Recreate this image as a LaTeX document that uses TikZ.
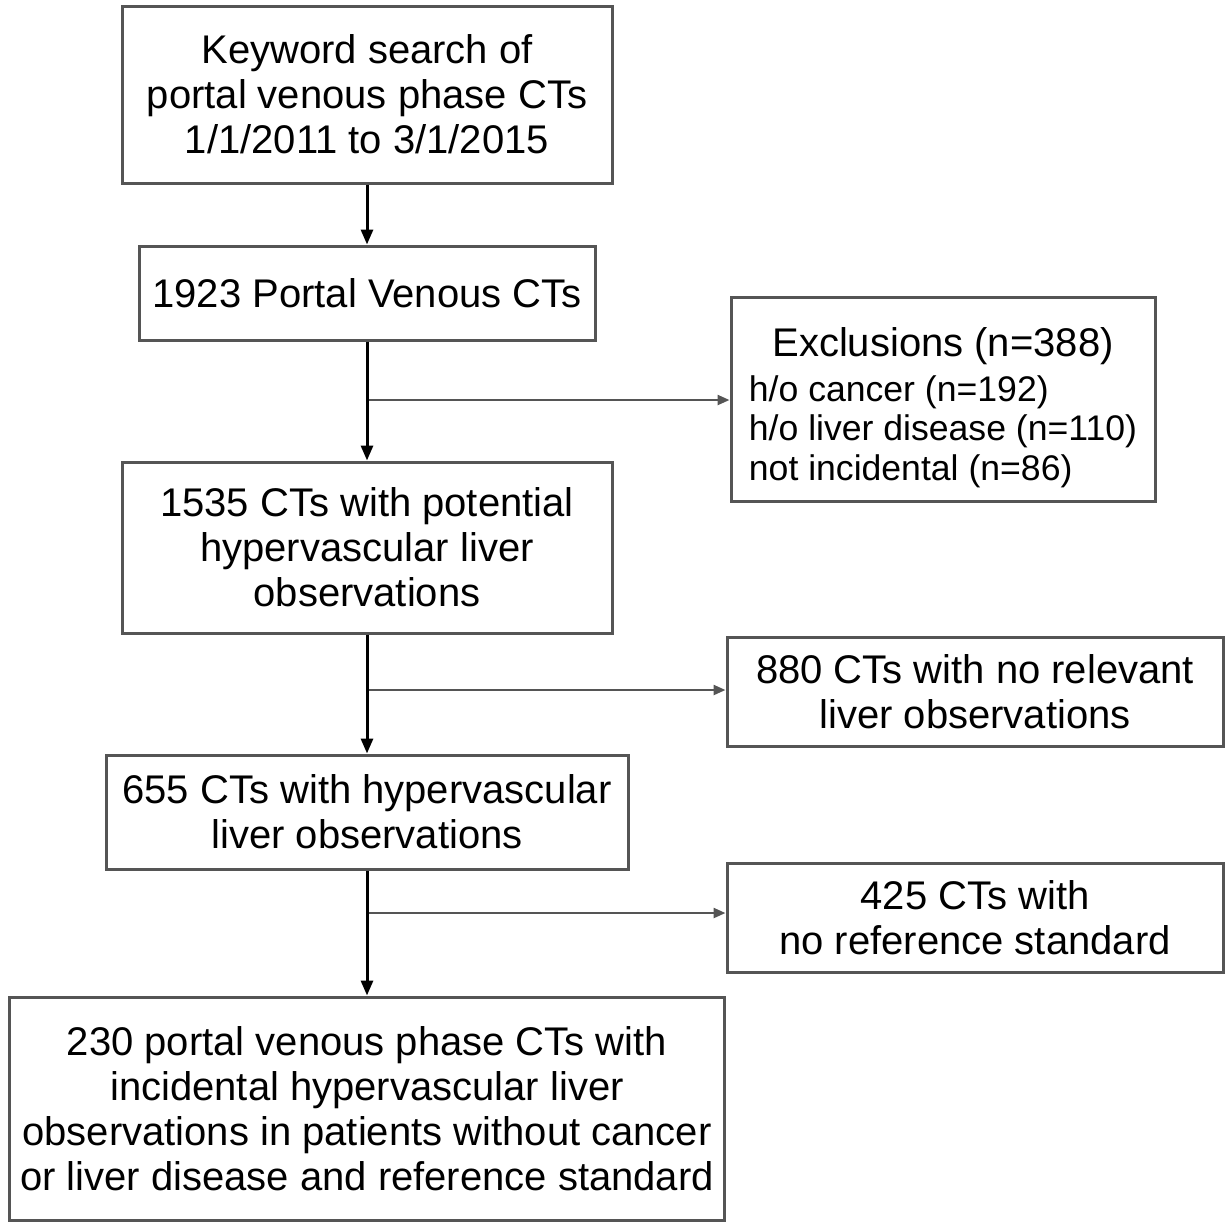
\documentclass[tikz,border=0pt]{standalone}
\usepackage{fontspec}
\setmainfont{Liberation Sans}
\usetikzlibrary{positioning,arrows.meta}
\definecolor{mygray}{RGB}{85,85,85}

\begin{document}
\begin{tikzpicture}[x=0.5pt,y=-0.5pt,
  fbox/.style={draw=mygray,line width=1.5pt,align=center,inner sep=0pt,
    font=\fontsize{20}{22.5}\selectfont},
  marr/.style={line width=1.5pt,-{Triangle[length=7.5pt,width=6pt]}},
  sarr/.style={draw=mygray,line width=1.2pt,-{Triangle[length=6pt,width=5pt]}}]

  \useasboundingbox (0,0) rectangle (1230,1222);

  % main column
  \node[fbox,minimum width=245pt,minimum height=88.5pt] (box1) at (367,94.5)
    {Keyword search of\\portal venous phase CTs\\1/1/2011 to 3/1/2015};
  \node[fbox,minimum width=228pt,minimum height=47pt] (box2) at (367,293)
    {1923 Portal Venous CTs};
  \node[fbox,minimum width=245pt,minimum height=85.5pt] (box4) at (367,547.5)
    {1535 CTs with potential\\hypervascular liver\\observations};
  \node[fbox,minimum width=261pt,minimum height=57pt] (box6) at (367,812)
    {655 CTs with hypervascular\\liver observations};
  \node[fbox,minimum width=357.5pt,minimum height=111.5pt] (box8) at (367,1108.5)
    {230 portal venous phase CTs with\\incidental hypervascular liver\\
     observations in patients without cancer\\or liver disease and reference standard};

  % side boxes
  \node[fbox,minimum width=212pt,minimum height=102pt] (box3) at (943,399)
    {\rule{0pt}{25pt}Exclusions (n=388)\\
     {\fontsize{17.8}{19.75}\selectfont\begin{tabular}[t]{@{}l@{}}
       h/o cancer (n=192)\\h/o liver disease (n=110)\\not incidental (n=86)
     \end{tabular}}};
  \node[fbox,minimum width=248pt,minimum height=54.5pt] (box5) at (975,691.5)
    {880 CTs with no relevant\\liver observations};
  \node[fbox,minimum width=248pt,minimum height=54.5pt] (box7) at (975,917.5)
    {425 CTs with\\no reference standard};

  \coordinate (br1) at (367,400);
  \coordinate (br2) at (367,690);
  \coordinate (br3) at (367,913);

  \draw[sarr] (br1) -- (br1 -| box3.west);
  \draw[sarr] (br2) -- (br2 -| box5.west);
  \draw[sarr] (br3) -- (br3 -| box7.west);

  \draw (box1) edge[marr] (box2);
  \draw (box2) edge[marr] (box4);
  \draw (box4) edge[marr] (box6);
  \draw (box6) edge[marr] (box8);
\end{tikzpicture}
\end{document}
